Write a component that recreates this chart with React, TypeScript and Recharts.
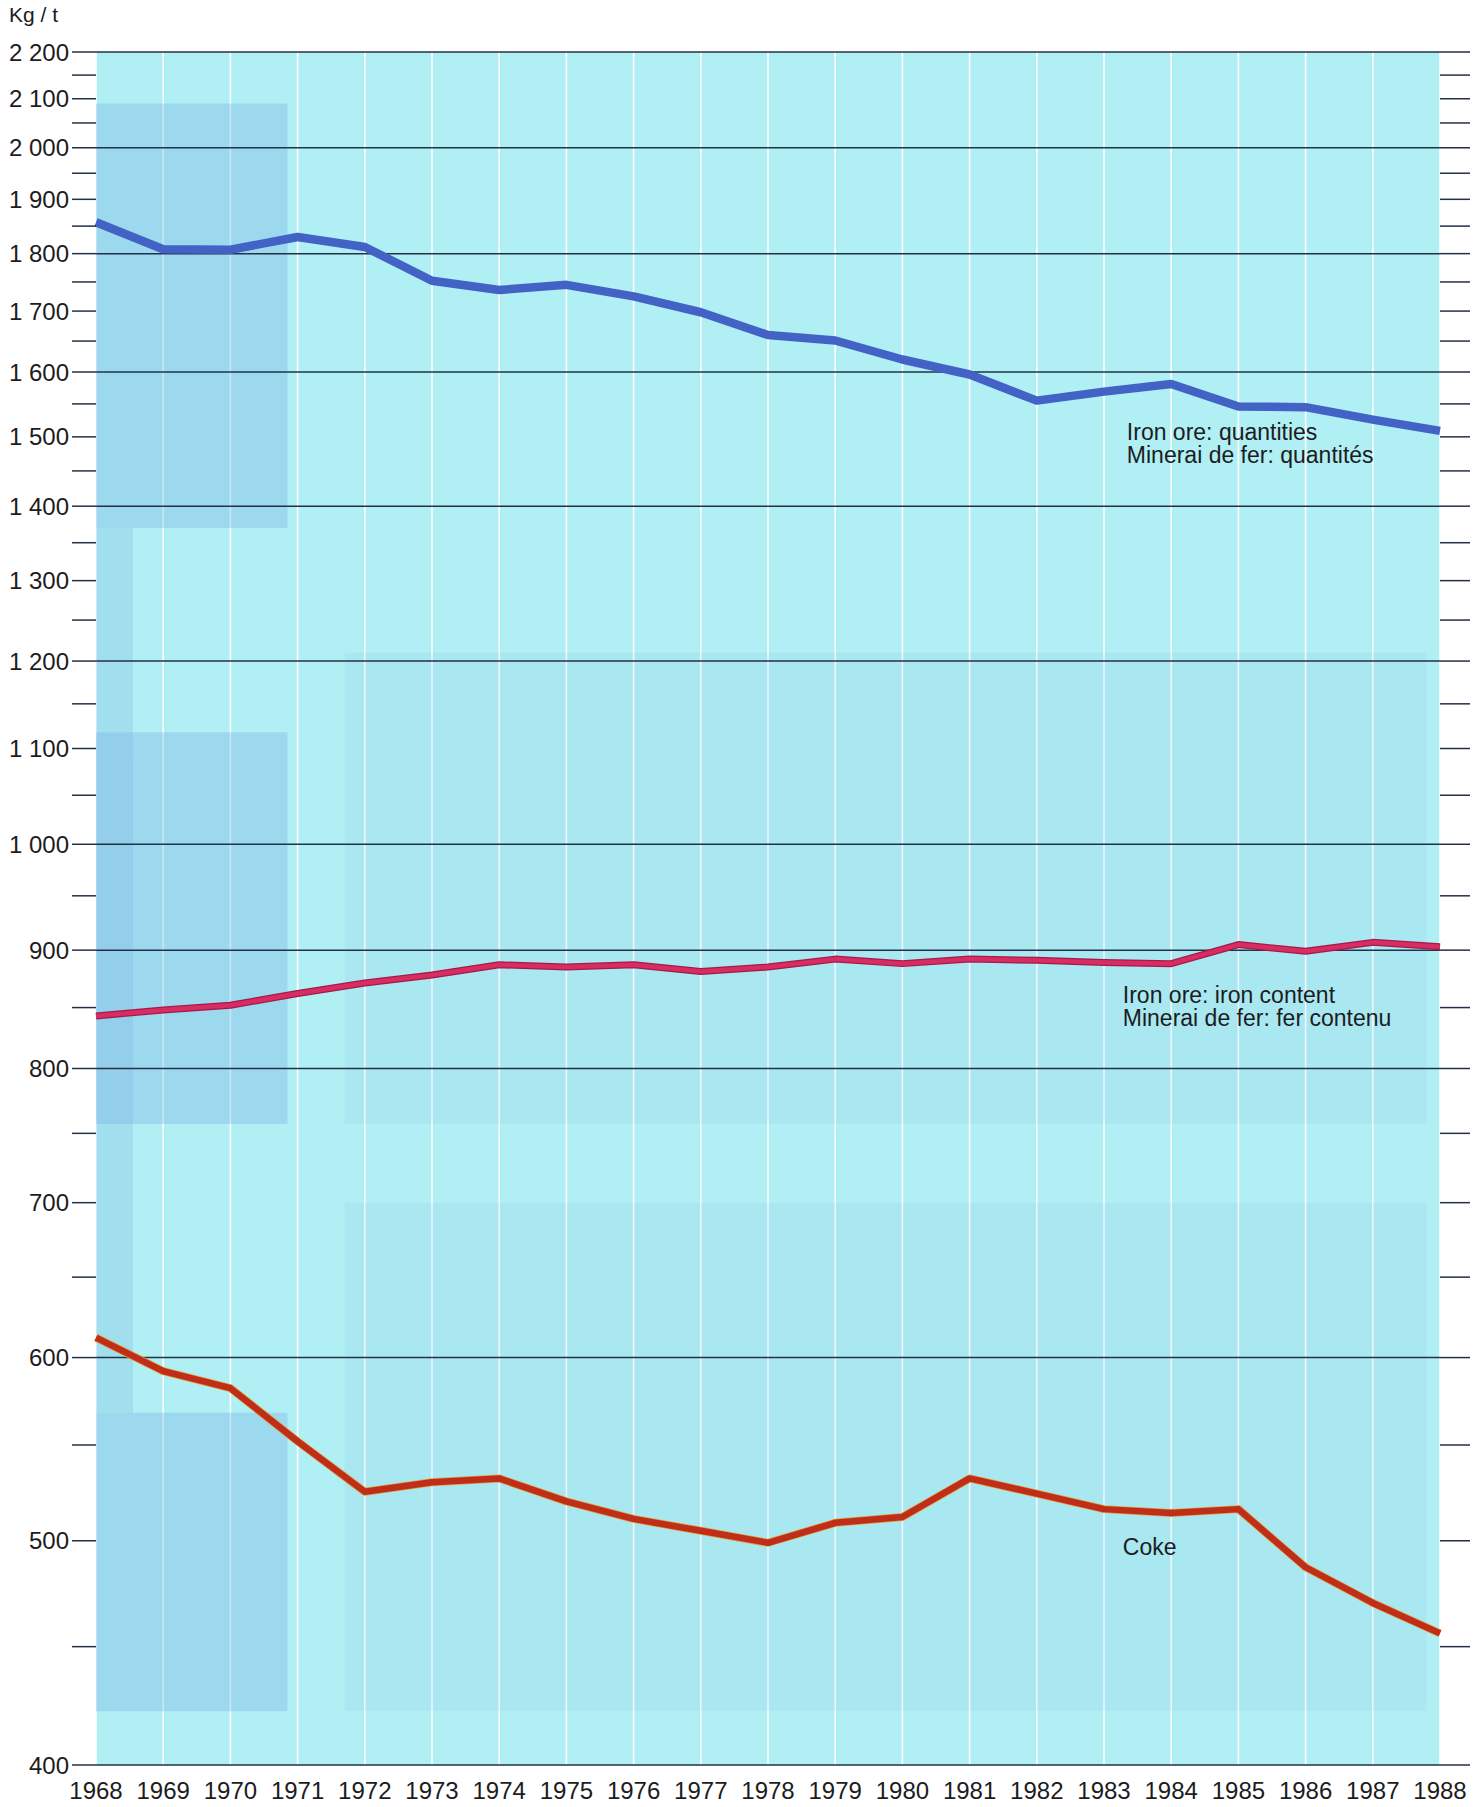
import React from "react";
import {
  LineChart,
  Line,
  XAxis,
  YAxis,
  CartesianGrid,
  ReferenceLine,
  ReferenceArea,
  ReferenceDot,
} from "recharts";

const YEARS = [
  1968, 1969, 1970, 1971, 1972, 1973, 1974, 1975, 1976, 1977, 1978, 1979, 1980, 1981, 1982, 1983, 1984,
  1985, 1986, 1987, 1988,
];
// kg per tonne of pig iron
const IRON_ORE_QTY = [
  1857, 1808, 1807, 1830, 1812, 1752, 1736, 1745, 1725, 1698, 1660, 1651, 1620, 1596, 1555, 1569, 1581,
  1546, 1545, 1526, 1509,
];
const IRON_CONTENT = [
  843, 848, 852, 862, 871, 878, 887, 885, 887, 881, 885, 892, 888, 892, 891, 889, 888, 905, 899, 907, 903,
];
const COKE = [
  612, 592, 582, 552, 525, 530, 532, 520, 511, 505, 499, 509, 512, 532, 524, 516, 514, 516, 487, 470, 456,
];

// y ticks (log scale): small marks every 50, labels every 100, ruled lines on some
const Y_TICKS = [
  400, 450, 500, 550, 600, 650, 700, 750, 800, 850, 900, 950, 1000, 1050, 1100, 1150, 1200, 1250, 1300,
  1350, 1400, 1450, 1500, 1550, 1600, 1650, 1700, 1750, 1800, 1850, 1900, 1950, 2000, 2050, 2100, 2150,
  2200,
];
const Y_LABELS = [
  400, 500, 600, 700, 800, 900, 1000, 1100, 1200, 1300, 1400, 1500, 1600, 1700, 1800, 1900, 2000, 2100,
  2200,
];
const Y_RULES = [2200, 2000, 1800, 1600, 1400, 1200, 1000, 900, 800, 600, 400];

// faint show-through of the reverse page: [year from, year to, value from, value to, opacity]
const SHADES: [number, number, number, number, number][] = [
  [1968, 1970.85, 1370, 2090, 0.4],
  [1968, 1970.85, 757, 1118, 0.4],
  [1968, 1970.85, 422, 568, 0.4],
  [1968, 1968.55, 568, 1370, 0.3],
  [1971.7, 1987.8, 757, 1210, 0.12],
  [1971.7, 1987.8, 422, 700, 0.12],
];

const FONT = '"Liberation Sans", Arial, Helvetica, sans-serif';
const INK = "#1c1c22";
const RULE = "#24304a";

const rows = YEARS.map((year, i) => ({
  year,
  qty: IRON_ORE_QTY[i],
  fe: IRON_CONTENT[i],
  coke: COKE[i],
}));

const fmt = (v: number) => (v >= 1000 ? `${Math.floor(v / 1000)} ${String(v % 1000).padStart(3, "0")}` : String(v));

function LeftTick(props: any) {
  const { x, y, payload } = props;
  if (!Y_LABELS.includes(payload.value)) return <g />;
  return (
    <text x={x} y={y} dy="0.36em" textAnchor="end" fontSize={24} fontFamily={FONT} fill={INK}>
      {fmt(payload.value)}
    </text>
  );
}

function note(lines: string[]) {
  return (p: any) => (
    <text x={p.cx} y={p.cy} fontSize={23} fontFamily={FONT} fill={INK}>
      {lines.map((t, i) => (
        <tspan key={t} x={p.cx} dy={i === 0 ? 0 : 23}>
          {t}
        </tspan>
      ))}
    </text>
  );
}

export default function App() {
  return (
    <div style={{ position: "absolute", left: 0, top: 0, width: 1481, height: 1807, background: "#fff" }}>
      <div style={{ position: "absolute", left: 9, top: 3, fontFamily: FONT, fontSize: 21, color: INK }}>
        Kg / t
      </div>
      <LineChart width={1481} height={1807} data={rows} margin={{ top: 52, right: 0, bottom: 0, left: 0 }}>
        <CartesianGrid
          horizontal={false}
          stroke="#ffffff"
          strokeWidth={1.6}
          fill="#b0eff3"
          fillOpacity={1}
        />
        {SHADES.map(([x1, x2, y1, y2, o], i) => (
          <ReferenceArea
            key={i}
            x1={x1}
            x2={x2}
            y1={y1}
            y2={y2}
            fill="#7fb8e6"
            fillOpacity={o}
            stroke="none"
          />
        ))}
        <XAxis
          dataKey="year"
          type="number"
          domain={[1968, 1988]}
          ticks={YEARS}
          interval={0}
          height={42}
          axisLine={false}
          tickLine={false}
          tickSize={0}
          tickMargin={17}
          tick={{ fontSize: 24, fontFamily: FONT, fill: INK }}
        />
        <YAxis
          type="number"
          scale="log"
          domain={[400, 2200]}
          allowDataOverflow
          ticks={Y_TICKS}
          interval={0}
          width={96}
          axisLine={false}
          tickSize={24}
          tickMargin={3}
          tickLine={{ stroke: RULE, strokeWidth: 1.5 }}
          tick={LeftTick}
        />
        <YAxis
          yAxisId="right"
          orientation="right"
          type="number"
          scale="log"
          domain={[400, 2200]}
          allowDataOverflow
          ticks={Y_TICKS}
          interval={0}
          width={41}
          axisLine={false}
          tickSize={30}
          tickLine={{ stroke: RULE, strokeWidth: 1.5 }}
          tick={() => <g />}
        />
        {Y_RULES.map((v) => (
          <ReferenceLine key={v} y={v} stroke={RULE} strokeWidth={1.5} />
        ))}
        <Line
          dataKey="qty"
          type="linear"
          stroke="#4262c6"
          strokeWidth={8.5}
          dot={false}
          strokeLinejoin="round"
          isAnimationActive={false}
        />
        <Line
          dataKey="fe"
          type="linear"
          stroke="#a8184c"
          strokeWidth={7}
          dot={false}
          strokeLinejoin="round"
          isAnimationActive={false}
        />
        <Line
          dataKey="fe"
          type="linear"
          stroke="#d62d62"
          strokeWidth={4.5}
          dot={false}
          strokeLinejoin="round"
          isAnimationActive={false}
        />
        <Line
          dataKey="coke"
          type="linear"
          stroke="#e3a23a"
          strokeWidth={8}
          dot={false}
          strokeLinejoin="round"
          isAnimationActive={false}
        />
        <Line
          dataKey="coke"
          type="linear"
          stroke="#bf2e1a"
          strokeWidth={6.5}
          dot={false}
          strokeLinejoin="round"
          isAnimationActive={false}
        />
        <ReferenceDot
          x={1983.34}
          y={1495}
          r={0}
          shape={note(["Iron ore: quantities", "Minerai de fer: quantités"])}
        />
        <ReferenceDot
          x={1983.28}
          y={854}
          r={0}
          shape={note(["Iron ore: iron content", "Minerai de fer: fer contenu"])}
        />
        <ReferenceDot x={1983.28} y={493} r={0} shape={note(["Coke"])} />
      </LineChart>
    </div>
  );
}
